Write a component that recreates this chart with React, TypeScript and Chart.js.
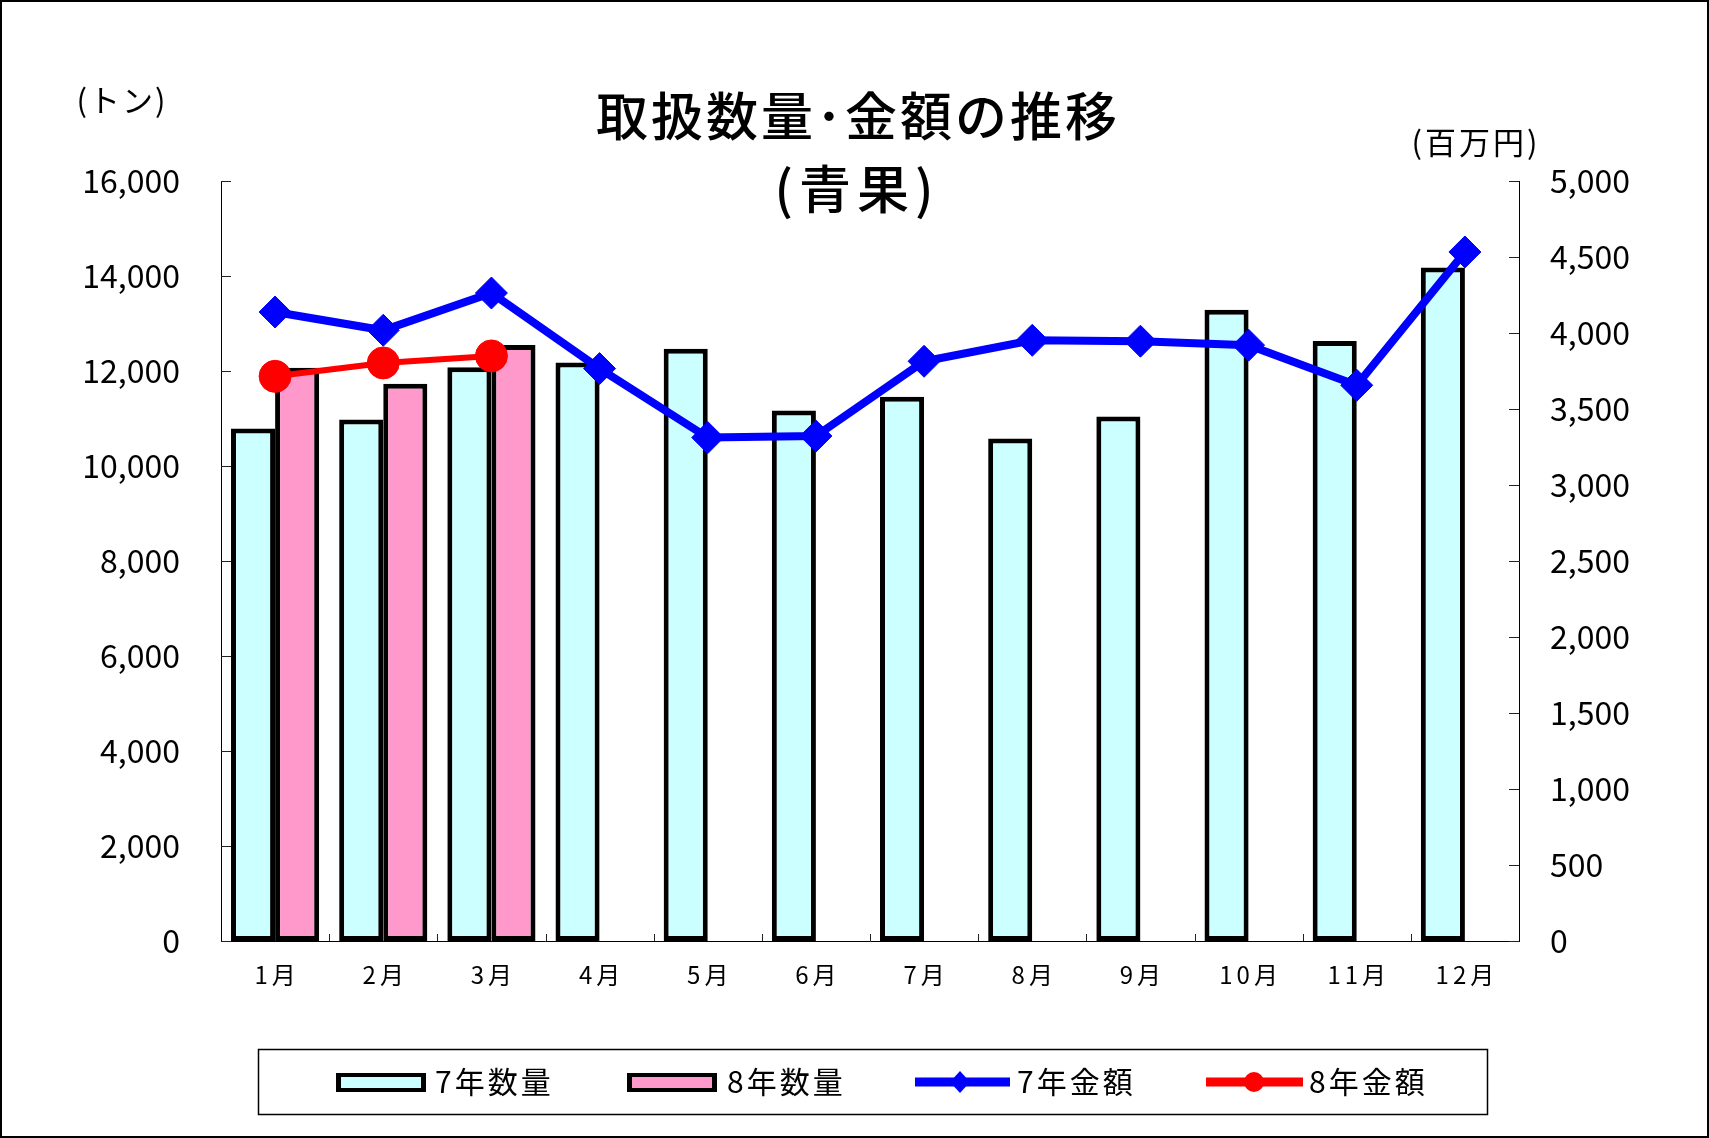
import React, { useEffect, useRef } from "react";
import { Chart, registerables } from "chart.js";

Chart.register(...registerables);

const months = ["1月", "2月", "3月", "4月", "5月", "6月", "7月", "8月", "9月", "10月", "11月", "12月"];
const qty7 = [10790, 10980, 12080, 12180, 12470, 11170, 11460, 10580, 11040, 13290, 12630, 14180];
const qty8 = [12070, 11730, 12550];
const amt7 = [4138, 4018, 4263, 3766, 3312, 3322, 3814, 3952, 3946, 3920, 3656, 4533];
const amt8 = [3715, 3803, 3849];
const seriesNames = ["7年数量", "8年数量", "7年金額", "8年金額"];
const titleLines = ["取扱数量･金額の推移", "(青果)"];
const leftUnit = "(トン)";
const rightUnit = "(百万円)";
const leftMax = 16000;
const leftStep = 2000;
const rightMax = 5000;
const rightStep = 500;

const FONT = '"Noto Sans CJK JP", "Noto Sans", sans-serif';
const CYAN = "#CCFFFF";
const PINK = "#FF99CC";
const BLUE = "#0000FF";
const RED = "#FF0000";

const decor = {
  id: "decor",
  beforeDatasetsDraw(chart: any) {
    const { ctx, chartArea, scales } = chart;
    const { left, right, bottom } = chartArea;
    ctx.save();
    ctx.strokeStyle = "#222";
    ctx.lineWidth = 1;
    const y = scales.y;
    y.ticks.forEach((_t: any, i: number) => {
      const py = Math.round(y.getPixelForTick(i)) + 0.5;
      ctx.beginPath();
      ctx.moveTo(left, py);
      ctx.lineTo(left + 10, py);
      ctx.stroke();
    });
    const y1 = scales.y1;
    y1.ticks.forEach((_t: any, i: number) => {
      const py = Math.round(y1.getPixelForTick(i)) + 0.5;
      ctx.beginPath();
      ctx.moveTo(right, py);
      ctx.lineTo(right - 10, py);
      ctx.stroke();
    });
    const x = scales.x;
    for (let i = 1; i < months.length; i++) {
      const px = Math.round((x.getPixelForTick(i - 1) + x.getPixelForTick(i)) / 2) + 0.5;
      ctx.beginPath();
      ctx.moveTo(px, bottom);
      ctx.lineTo(px, bottom - 7);
      ctx.stroke();
    }
    ctx.restore();
  },
  afterDraw(chart: any) {
    const { ctx, width, height, scales } = chart;
    ctx.save();
    ctx.fillStyle = "#000";
    ctx.textAlign = "center";
    ctx.textBaseline = "middle";

    // month labels (with letter spacing)
    ctx.font = `24px ${FONT}`;
    (ctx as any).letterSpacing = "4px";
    months.forEach((m, i) => {
      ctx.fillText(m, scales.x.getPixelForTick(i) + 2, 975);
    });

    (ctx as any).letterSpacing = "3px";
    ctx.font = `500 52px ${FONT}`;
    ctx.fillText(titleLines[0], 858, 116);
    (ctx as any).letterSpacing = "6px";
    ctx.fillText(titleLines[1], 857, 189);

    (ctx as any).letterSpacing = "2px";
    ctx.font = `31px ${FONT}`;
    ctx.fillText(leftUnit, 122, 100);
    (ctx as any).letterSpacing = "3px";
    ctx.fillText(rightUnit, 1476, 142);

    // legend box
    ctx.strokeStyle = "#000";
    ctx.lineWidth = 1.5;
    ctx.strokeRect(258.5, 1049.5, 1229, 65);

    const ly = 1082;
    const drawSwatch = (x0: number, color: string) => {
      ctx.fillStyle = "#000";
      ctx.fillRect(x0, 1073, 90, 19);
      ctx.fillStyle = color;
      ctx.fillRect(x0 + 5, 1077, 80, 11);
    };
    drawSwatch(336, CYAN);
    drawSwatch(627, PINK);

    ctx.lineCap = "butt";
    ctx.lineWidth = 9;
    ctx.strokeStyle = BLUE;
    ctx.beginPath();
    ctx.moveTo(915, ly);
    ctx.lineTo(1010, ly);
    ctx.stroke();
    ctx.fillStyle = BLUE;
    ctx.beginPath();
    ctx.moveTo(960, ly - 11);
    ctx.lineTo(970, ly);
    ctx.lineTo(960, ly + 11);
    ctx.lineTo(950, ly);
    ctx.closePath();
    ctx.fill();

    ctx.strokeStyle = RED;
    ctx.beginPath();
    ctx.moveTo(1206, ly);
    ctx.lineTo(1303, ly);
    ctx.stroke();
    ctx.fillStyle = RED;
    ctx.beginPath();
    ctx.ellipse(1254, ly, 10, 10, 0, 0, Math.PI * 2);
    ctx.fill();

    ctx.fillStyle = "#000";
    ctx.textAlign = "left";
    ctx.font = `30px ${FONT}`;
    (ctx as any).letterSpacing = "3px";
    ctx.fillText(seriesNames[0], 435, ly);
    ctx.fillText(seriesNames[1], 727, ly);
    ctx.fillText(seriesNames[2], 1017, ly);
    ctx.fillText(seriesNames[3], 1309, ly);
    (ctx as any).letterSpacing = "0px";

    ctx.lineWidth = 2;
    ctx.strokeStyle = "#000";
    ctx.strokeRect(1, 1, width - 2, height - 2);
    ctx.restore();
  },
};

export default function App() {
  const ref = useRef<HTMLCanvasElement | null>(null);

  useEffect(() => {
    document.body.style.margin = "0";
    const canvas = ref.current;
    if (!canvas) return;
    const chart = new Chart(canvas, {
      type: "bar",
      data: {
        labels: months,
        datasets: [
          {
            type: "bar",
            label: seriesNames[0],
            data: qty7,
            backgroundColor: CYAN,
            borderColor: "#000",
            borderWidth: 5,
            borderSkipped: false,
            yAxisID: "y",
            order: 3,
          },
          {
            type: "bar",
            label: seriesNames[1],
            data: qty8,
            backgroundColor: PINK,
            borderColor: "#000",
            borderWidth: 5,
            borderSkipped: false,
            yAxisID: "y",
            order: 3,
          },
          {
            type: "line",
            label: seriesNames[2],
            data: amt7,
            borderColor: BLUE,
            backgroundColor: BLUE,
            borderWidth: 8,
            pointStyle: "rectRot",
            pointRadius: 16,
            pointBorderWidth: 1,
            pointBorderColor: BLUE,
            pointBackgroundColor: BLUE,
            yAxisID: "y1",
            order: 2,
          },
          {
            type: "line",
            label: seriesNames[3],
            data: amt8,
            borderColor: RED,
            backgroundColor: RED,
            borderWidth: 6,
            pointStyle: "circle",
            pointRadius: 16,
            pointBorderWidth: 1,
            pointBorderColor: RED,
            pointBackgroundColor: RED,
            yAxisID: "y1",
            order: 1,
          },
        ] as any,
      },
      options: {
        responsive: false,
        animation: false,
        devicePixelRatio: 1,
        layout: { padding: { top: 181, left: 0, right: 0, bottom: 0 } },
        plugins: {
          legend: { display: false },
          title: { display: false },
          tooltip: { enabled: false },
        },
        datasets: {
          bar: { categoryPercentage: 0.815, barPercentage: 1 },
        },
        scales: {
          x: {
            offset: true,
            grid: { display: false, drawTicks: false },
            border: { display: true, color: "#000", width: 1 },
            ticks: { display: false, autoSkip: false },
            afterFit: (s: any) => {
              s.height = 197;
            },
          },
          y: {
            position: "left",
            min: 0,
            max: leftMax,
            grid: { display: false, drawTicks: false },
            border: { display: true, color: "#000", width: 1 },
            ticks: {
              stepSize: leftStep,
              color: "#000",
              font: { family: FONT, size: 32 },
              padding: 41,
              callback: (v: any) => Number(v).toLocaleString("en-US"),
            },
            afterFit: (s: any) => {
              s.width = 221;
            },
          },
          y1: {
            position: "right",
            min: 0,
            max: rightMax,
            grid: { display: false, drawTicks: false },
            border: { display: true, color: "#000", width: 1 },
            ticks: {
              stepSize: rightStep,
              color: "#000",
              font: { family: FONT, size: 32 },
              padding: 31,
              callback: (v: any) => Number(v).toLocaleString("en-US"),
            },
            afterFit: (s: any) => {
              s.width = 190;
            },
          },
        },
      } as any,
      plugins: [decor],
    });
    return () => chart.destroy();
  }, []);

  return (
    <div style={{ position: "absolute", left: 0, top: 0, width: 1709, height: 1138, background: "#fff" }}>
      <canvas ref={ref} width={1709} height={1138} style={{ display: "block", width: 1709, height: 1138 }} />
    </div>
  );
}
